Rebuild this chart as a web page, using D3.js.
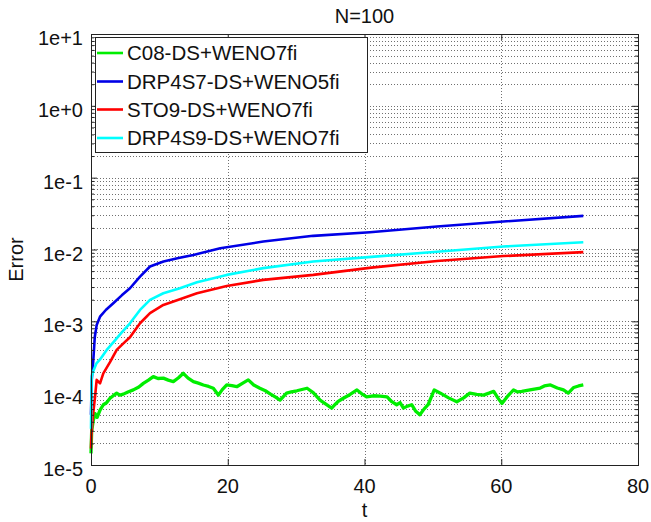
<!DOCTYPE html>
<html>
<head>
<meta charset="utf-8">
<script src="https://cdn.jsdelivr.net/npm/d3@7"></script>
<style>
  html, body { margin: 0; padding: 0; background: #fff; }
  svg { display: block; }
  text { font-family: "Liberation Sans", Arial, Helvetica, sans-serif; fill: #111; }
</style>
</head>
<body>
<svg id="chart" width="651" height="522"></svg>
<script>
// ---------------- data ----------------
const title = "N=100";
const xLabel = "t";
const yLabel = "Error";
const xTicks = [0, 20, 40, 60, 80];
const yTicks = [1e-5, 1e-4, 1e-3, 1e-2, 1e-1, 1e0, 1e1];
const yTickLabels = ["1e-5", "1e-4", "1e-3", "1e-2", "1e-1", "1e+0", "1e+1"];

const seriesNames = ["C08-DS+WENO7fi", "DRP4S7-DS+WENO5fi", "STO9-DS+WENO7fi", "DRP4S9-DS+WENO7fi"];
const seriesColors = ["#00ee00", "#0000e6", "#ff0000", "#00ffff"];

const greenT = [0, 0.1, 0.34, 0.59, 0.9, 1.32, 1.8, 2.3, 2.78, 3.3, 3.76, 4.2, 4.73, 5.4, 6.19, 7.0, 7.65, 8.4, 9.11, 9.8, 10.58, 11.3, 12.04, 12.8, 13.5, 14.2, 14.97, 15.7, 16.43, 17.2, 17.89, 18.62, 19.2, 19.85, 20.6, 21.32, 22.2, 23.0, 23.8, 24.7, 25.5, 26.2, 27.0, 27.65, 28.6, 29.3, 30.1, 31.6, 32.5, 33.5, 34.4, 35.2, 35.6, 36.1, 36.9, 37.9, 38.9, 39.6, 40.3, 41.3, 42.3, 43.3, 44.0, 44.7, 45.2, 45.7, 46.3, 46.9, 47.5, 48.1, 48.7, 49.3, 50.2, 51.1, 52.3, 53.5, 54.5, 55.4, 56.4, 57.4, 58.2, 58.9, 59.5, 60.1, 60.9, 61.8, 62.4, 63.0, 64.2, 65.7, 66.3, 67.2, 68.2, 69.1, 69.8, 70.6, 71.3, 72.0];
const greenErr = [1.45e-5, 3.0e-5, 4.2e-5, 5.2e-5, 4.6e-5, 5.8e-5, 6.9e-5, 7.4e-5, 8.5e-5, 9.3e-5, 1.0e-4, 9.4e-5, 9.7e-5, 1.04e-4, 1.11e-4, 1.22e-4, 1.37e-4, 1.52e-4, 1.70e-4, 1.60e-4, 1.62e-4, 1.52e-4, 1.45e-4, 1.64e-4, 1.89e-4, 1.62e-4, 1.45e-4, 1.38e-4, 1.30e-4, 1.24e-4, 1.17e-4, 9.4e-5, 1.12e-4, 1.30e-4, 1.27e-4, 1.23e-4, 1.38e-4, 1.53e-4, 1.30e-4, 1.17e-4, 1.08e-4, 9.8e-5, 8.8e-5, 8.0e-5, 1.0e-4, 1.04e-4, 1.08e-4, 1.17e-4, 1.02e-4, 8.0e-5, 7.0e-5, 6.2e-5, 6.8e-5, 7.6e-5, 8.5e-5, 9.6e-5, 1.11e-4, 9.8e-5, 8.9e-5, 9.2e-5, 9.1e-5, 8.9e-5, 7.6e-5, 6.9e-5, 7.4e-5, 6.2e-5, 6.6e-5, 6.9e-5, 5.6e-5, 5.0e-5, 6.0e-5, 6.9e-5, 1.11e-4, 1.0e-4, 8.6e-5, 7.6e-5, 8.6e-5, 1.0e-4, 9.6e-5, 9.4e-5, 1.0e-4, 1.06e-4, 8.6e-5, 7.2e-5, 9.0e-5, 1.11e-4, 1.04e-4, 1.06e-4, 1.11e-4, 1.18e-4, 1.26e-4, 1.30e-4, 1.18e-4, 1.11e-4, 1.00e-4, 1.20e-4, 1.26e-4, 1.30e-4];

const blueT = [0, 0.1, 0.34, 0.55, 0.83, 1.32, 2.2, 3.26, 4.5, 5.7, 7.17, 8.63, 10.6, 12.8, 14.97, 18.9, 25.2, 32.5, 40.8, 50.6, 60.3, 72.0];
const blueErr = [5.0e-5, 1.5e-4, 2.9e-4, 6.0e-4, 8.9e-4, 1.16e-3, 1.45e-3, 1.79e-3, 2.3e-3, 2.89e-3, 4.2e-3, 5.8e-3, 6.8e-3, 7.6e-3, 8.4e-3, 1.04e-2, 1.29e-2, 1.55e-2, 1.74e-2, 2.09e-2, 2.45e-2, 2.94e-2];

const redT = [0, 0.05, 0.3, 0.59, 0.83, 1.32, 1.8, 2.78, 3.76, 4.7, 5.7, 7.17, 8.63, 10.58, 13.0, 15.5, 19.85, 25.2, 32.5, 41.0, 50.6, 60.3, 72.0];
const redErr = [1.7e-5, 2.5e-5, 5.0e-5, 8.9e-5, 1.53e-4, 1.37e-4, 1.89e-4, 2.7e-4, 4.0e-4, 4.9e-4, 6.0e-4, 9.4e-4, 1.30e-3, 1.69e-3, 2.03e-3, 2.46e-3, 3.11e-3, 3.78e-3, 4.43e-3, 5.6e-3, 6.9e-3, 8.1e-3, 9.2e-3];

const cyanT = [0, 0.1, 0.4, 0.8, 1.32, 2.3, 3.26, 4.5, 5.7, 7.17, 8.63, 10.58, 13.0, 15.5, 19.85, 25.2, 32.5, 41.0, 50.6, 60.3, 72.0];
const cyanErr = [3.2e-5, 1.7e-4, 2.1e-4, 2.6e-4, 2.95e-4, 4.0e-4, 5.1e-4, 7.0e-4, 9.4e-4, 1.44e-3, 1.99e-3, 2.46e-3, 2.89e-3, 3.5e-3, 4.43e-3, 5.5e-3, 6.8e-3, 7.9e-3, 9.3e-3, 1.10e-2, 1.26e-2];

const seriesT = [greenT, blueT, redT, cyanT];
const seriesErr = [greenErr, blueErr, redErr, cyanErr];

// ---------------- layout ----------------
const svg = d3.select("#chart");
const pLeft = 91, pRight = 638, pTop = 34, pBottom = 465;

const x = d3.scaleLinear().domain([0, 80]).range([pLeft, pRight]);
const y = d3.scaleLog().domain([1e-5, 1e1]).range([pBottom, pTop]);

// minor log values
const minorVals = [];
for (let e = -5; e < 1; e++) {
  for (let m = 2; m <= 9; m++) minorVals.push(m * Math.pow(10, e));
}

const gridStyle = g => g.attr("stroke", "#707070").attr("stroke-width", 1)
  .attr("stroke-dasharray", "1,2").attr("fill", "none");

// horizontal grid (major + minor)
const grid = svg.append("g");
grid.selectAll("line.h").data(minorVals.concat(yTicks.slice(1, -1))).enter().append("line")
  .attr("x1", pLeft).attr("x2", pRight)
  .attr("y1", d => Math.round(y(d)) + 0.5).attr("y2", d => Math.round(y(d)) + 0.5)
  .call(gridStyle);
// vertical grid
grid.selectAll("line.v").data(xTicks.slice(1, -1)).enter().append("line")
  .attr("x1", d => Math.round(x(d)) + 0.5).attr("x2", d => Math.round(x(d)) + 0.5)
  .attr("y1", pTop).attr("y2", pBottom)
  .call(gridStyle);

// series lines
const line = d3.line().x(d => x(d[0])).y(d => y(d[1]));
seriesNames.forEach((name, i) => {
  const pts = seriesT[i].map((t, k) => [t, seriesErr[i][k]]);
  svg.append("path").datum(pts)
    .attr("d", line)
    .attr("fill", "none")
    .attr("stroke", seriesColors[i])
    .attr("stroke-width", i === 0 ? 3.3 : 2.6)
    .attr("stroke-linejoin", "round");
});

// axes box
svg.append("rect").attr("x", pLeft + 0.5).attr("y", pTop + 0.5)
  .attr("width", pRight - pLeft).attr("height", pBottom - pTop)
  .attr("fill", "none").attr("stroke", "#222").attr("stroke-width", 1);

// ticks (inward) using d3 axes
const xAxisB = d3.axisBottom(x).tickValues(xTicks).tickSizeInner(-6).tickSizeOuter(0).tickFormat("");
const xAxisT = d3.axisTop(x).tickValues(xTicks).tickSizeInner(-6).tickSizeOuter(0).tickFormat("");
const yAxisL = d3.axisLeft(y).tickValues(yTicks).tickSizeInner(-6).tickSizeOuter(0).tickFormat("");
const yAxisR = d3.axisRight(y).tickValues(yTicks).tickSizeInner(-6).tickSizeOuter(0).tickFormat("");
const yMinL = d3.axisLeft(y).tickValues(minorVals).tickSizeInner(-3).tickSizeOuter(0).tickFormat("");
const yMinR = d3.axisRight(y).tickValues(minorVals).tickSizeInner(-3).tickSizeOuter(0).tickFormat("");

function styleAxis(g) {
  g.select(".domain").remove();
  g.selectAll(".tick line").attr("stroke", "#222");
}
svg.append("g").attr("transform", `translate(0,${pBottom})`).call(xAxisB).call(styleAxis);
svg.append("g").attr("transform", `translate(0,${pTop})`).call(xAxisT).call(styleAxis);
svg.append("g").attr("transform", `translate(${pLeft},0)`).call(yAxisL).call(styleAxis);
svg.append("g").attr("transform", `translate(${pRight},0)`).call(yAxisR).call(styleAxis);
svg.append("g").attr("transform", `translate(${pLeft},0)`).call(yMinL).call(styleAxis);
svg.append("g").attr("transform", `translate(${pRight},0)`).call(yMinR).call(styleAxis);

// tick labels
svg.append("g").selectAll("text").data(xTicks).enter().append("text")
  .attr("x", d => x(d)).attr("y", pBottom + 28)
  .attr("text-anchor", "middle").attr("font-size", 20)
  .text(d => d);
svg.append("g").selectAll("text").data(yTicks).enter().append("text")
  .attr("x", pLeft - 8).attr("y", d => y(d) + 11)
  .attr("text-anchor", "end").attr("font-size", 20)
  .text((d, i) => yTickLabels[i]);

// title & axis labels
svg.append("text").attr("x", (pLeft + pRight) / 2).attr("y", 23)
  .attr("text-anchor", "middle").attr("font-size", 20).text(title);
svg.append("text").attr("x", (pLeft + pRight) / 2).attr("y", 517)
  .attr("text-anchor", "middle").attr("font-size", 20).text(xLabel);
svg.append("text").attr("transform", `translate(23,${(pTop + pBottom) / 2 + 10}) rotate(-90)`)
  .attr("text-anchor", "middle").attr("font-size", 20).text(yLabel);

// legend
const lg = svg.append("g");
lg.append("rect").attr("x", 95.5).attr("y", 37.5).attr("width", 272).attr("height", 115)
  .attr("fill", "#fff").attr("stroke", "#222").attr("stroke-width", 1);
const rowY = [53, 81.5, 109.5, 138];
seriesNames.forEach((name, i) => {
  lg.append("line").attr("x1", 97).attr("x2", 123)
    .attr("y1", rowY[i]).attr("y2", rowY[i])
    .attr("stroke", seriesColors[i]).attr("stroke-width", 2.6);
  lg.append("text").attr("x", 127).attr("y", rowY[i] + 7)
    .attr("font-size", 20.5).text(name);
});
</script>
</body>
</html>
